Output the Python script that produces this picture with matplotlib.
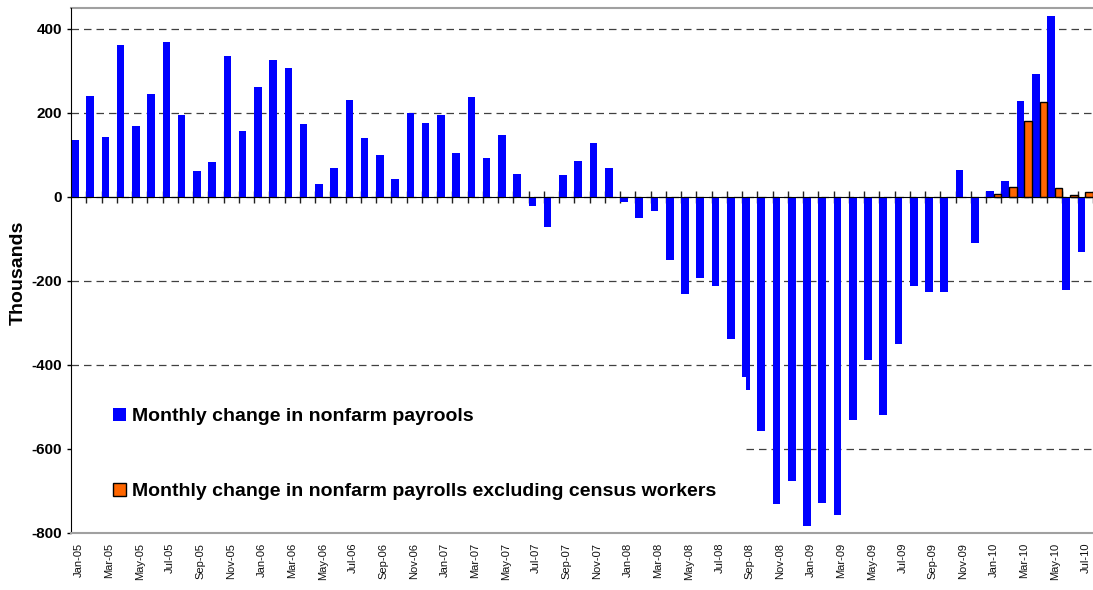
import numpy as np
import pandas as pd
import matplotlib
matplotlib.use('Agg')
import matplotlib.pyplot as plt
from matplotlib.patches import Rectangle

# months Jan-05 .. Jul-10
months = pd.date_range('2005-01-01', periods=67, freq='MS').strftime('%b-%y').tolist()

# monthly change in nonfarm payrolls (thousands)
payrolls = [136, 241, 143, 361, 170, 246, 370, 196, 62, 84, 335, 158,      # 2005
            263, 327, 306, 174, 31, 69, 232, 141, 100, 43, 201, 177,       # 2006
            196, 105, 239, 93, 148, 55, -21, -71, 53, 86, 129, 69,         # 2007
            -12, -50, -33, -150, -231, -193, -212, -337, -460, -557, -731, -676,  # 2008
            -783, -728, -757, -530, -389, -518, -349, -213, -227, -225, 64, -110,  # 2009
            14, 38, 229, 292, 432, -221, -131]                             # 2010

# excluding census workers (2010 only)
census_months = ['Jan-10', 'Feb-10', 'Mar-10', 'Apr-10', 'May-10', 'Jun-10', 'Jul-10']
excl_census = [7, 25, 182, 225, 21, 5, 13]

yticks = [-800, -600, -400, -200, 0, 200, 400]

plt.rcParams['font.family'] = ['Liberation Sans', 'DejaVu Sans']

fig = plt.figure(figsize=(10.93, 5.90), dpi=100)
ax = fig.add_axes([71 / 1093, 57 / 590, 1022 / 1093, 525 / 590])

x = np.arange(len(months))
xc = np.array([months.index(m) for m in census_months])

ax.bar(x - 0.25, payrolls, width=0.5, color='#0000FF', zorder=2,
       label='Monthly change in nonfarm payrools')
ax.bar(xc + 0.25, excl_census, width=0.5, color='#FF6600', edgecolor='black',
       linewidth=1, zorder=2,
       label='Monthly change in nonfarm payrolls excluding census workers')

ax.set_xlim(-0.5, 66.3)
ax.set_ylim(-800, 450)

# dashed gridlines
ax.set_axisbelow(True)
ax.yaxis.grid(True, color='#404040', linewidth=0.9, linestyle=(0, (6, 4)))

# y axis
ax.set_yticks(yticks, [str(v) for v in yticks], fontweight='bold')
ax.tick_params(axis='y', direction='out', length=3, width=1, labelsize=11, pad=3.5)
ax.set_ylabel('Thousands', fontsize=14, fontweight='bold')
ax.yaxis.set_label_coords(-0.043, 0.495)

# zero line with month separators
ax.spines['bottom'].set_position(('data', 0))
ax.spines['bottom'].set_zorder(3)
ax.spines['left'].set_color('black')
ax.spines['left'].set_zorder(3)
ax.spines['right'].set_visible(False)
ax.spines['top'].set_color('#a0a0a0')
ax.spines['top'].set_linewidth(1.5)
ax.set_xticks(x + 0.5)
ax.tick_params(axis='x', direction='inout', length=9, width=1, color='#202020',
               labelbottom=False)

# month labels at the bottom
sec = ax.secondary_xaxis('bottom')
sec.set_xticks(x[::2], months[::2])
sec.tick_params(length=0, labelsize=8, labelrotation=90, pad=7, labelcolor='#101010')
sec.spines['bottom'].set_color('#a0a0a0')
sec.spines['bottom'].set_linewidth(1.5)
sec.set_zorder(4)

# white legend area
ax.add_patch(Rectangle((0, 0), 0.6605, 0.297, transform=ax.transAxes,
                       facecolor='white', edgecolor='none', zorder=2.4))
leg = ax.legend(loc='upper left', bbox_to_anchor=(0.041, 0.238), frameon=False,
                prop={'weight': 'bold', 'size': 14}, handlelength=0.67,
                handleheight=0.67, handletextpad=0.3, labelspacing=2.95,
                borderpad=0, borderaxespad=0)
leg.set_zorder(5)

fig.savefig('out.png', dpi=100)
